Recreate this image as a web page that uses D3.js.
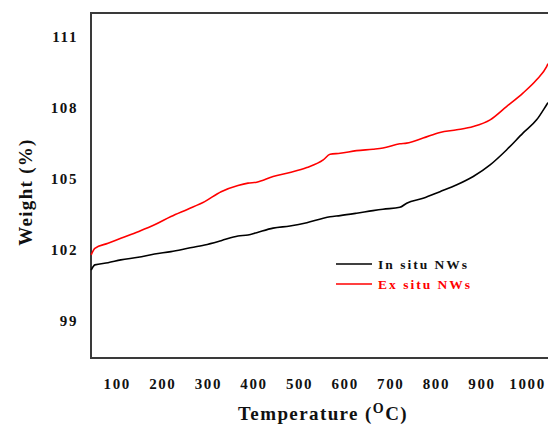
<!DOCTYPE html>
<html>
<head>
<meta charset="utf-8">
<script src="https://cdn.jsdelivr.net/npm/d3@7"></script>
<style>
  html, body { margin: 0; padding: 0; background: #fff; }
  svg { display: block; }
  text { font-family: "Liberation Serif", "Times New Roman", serif; font-weight: bold; }
</style>
</head>
<body>
<svg id="chart" width="548" height="427"></svg>
<script>
// Temperature (°C) sample points
const temps = [44, 52, 81, 109, 147, 183, 219, 256, 293, 329, 366, 388, 407, 443, 480, 517, 553, 568, 590, 626, 662, 684, 721, 736, 772, 809, 846, 882, 919, 955, 991, 1021, 1043, 1046];
// Weight (%) for the in situ nanowires
const inSitu = [101.15, 101.37, 101.46, 101.58, 101.69, 101.83, 101.93, 102.07, 102.21, 102.39, 102.59, 102.63, 102.73, 102.92, 103.01, 103.15, 103.34, 103.40, 103.45, 103.55, 103.66, 103.72, 103.80, 103.97, 104.18, 104.46, 104.75, 105.10, 105.59, 106.22, 106.93, 107.49, 108.13, 108.22];
// Weight (%) for the ex situ nanowires
const exSitu = [101.79, 102.07, 102.28, 102.49, 102.77, 103.06, 103.41, 103.72, 104.04, 104.46, 104.72, 104.82, 104.86, 105.10, 105.27, 105.48, 105.80, 106.04, 106.08, 106.19, 106.25, 106.30, 106.48, 106.51, 106.72, 106.96, 107.07, 107.21, 107.49, 108.05, 108.62, 109.18, 109.74, 109.86];
const xTicks = [100, 200, 300, 400, 500, 600, 700, 800, 900, 1000];
const yTicks = [99, 102, 105, 108, 111];
const seriesNames = ["In situ NWs", "Ex situ NWs"];
const seriesColors = ["#000000", "#ff0000"];

const svg = d3.select("#chart");
const plotL = 91, plotR = 548, plotT = 13, plotB = 358;

const x = d3.scaleLinear().domain([43.6, 1046]).range([plotL, plotR]);
const y = d3.scaleLinear().domain([97.44, 112.0]).range([plotB, plotT]);

// frame: left, top and bottom edges
svg.append("path")
  .attr("d", `M${plotR},${plotT}H${plotL}V${plotB}H${plotR}`)
  .attr("fill", "none").attr("stroke", "#3a3a3a").attr("stroke-width", 2);

// axes with labels only (no tick marks)
const xAxis = svg.append("g").attr("transform", `translate(0,${plotB})`)
  .call(d3.axisBottom(x).tickValues(xTicks).tickSize(0).tickPadding(20).tickFormat(d3.format("d")));
const yAxis = svg.append("g").attr("transform", `translate(${plotL},0)`)
  .call(d3.axisLeft(y).tickValues(yTicks).tickSize(0).tickPadding(13).tickFormat(d3.format("d")));
[xAxis, yAxis].forEach(g => {
  g.select(".domain").remove();
  g.selectAll("text")
    .attr("font-family", "Liberation Serif, serif")
    .attr("font-weight", "bold")
    .attr("font-size", 15)
    .attr("letter-spacing", "1.6px")
    .attr("fill", "#111");
});

const line = d3.line().x(d => x(d[0])).y(d => y(d[1])).curve(d3.curveMonotoneX);
[inSitu, exSitu].forEach((vals, i) => {
  svg.append("path")
    .datum(temps.map((t, j) => [t, vals[j]]))
    .attr("d", line)
    .attr("fill", "none")
    .attr("stroke", seriesColors[i])
    .attr("stroke-width", 1.6);
});

// legend
const legend = svg.append("g").attr("transform", "translate(336,264)");
seriesNames.forEach((name, i) => {
  const g = legend.append("g").attr("transform", `translate(0,${i * 20})`);
  g.append("line").attr("x1", 0).attr("x2", 36).attr("y1", 0).attr("y2", 0)
    .attr("stroke", seriesColors[i]).attr("stroke-width", 1.6);
  g.append("text").attr("x", 42).attr("y", 5)
    .attr("font-size", 13.5).attr("letter-spacing", "2px")
    .attr("fill", seriesColors[i] === "#000000" ? "#111" : "#ff0000")
    .text(name);
});

// axis titles
svg.append("text")
  .attr("transform", "translate(32,192) rotate(-90)")
  .attr("text-anchor", "middle")
  .attr("font-size", 19).attr("letter-spacing", "1.3px").attr("fill", "#111")
  .text("Weight (%)");

const xt = svg.append("text")
  .attr("x", 323).attr("y", 420)
  .attr("text-anchor", "middle")
  .attr("font-size", 19).attr("letter-spacing", "1.4px").attr("fill", "#111");
xt.append("tspan").text("Temperature (");
xt.append("tspan").attr("dy", -7).attr("font-size", 14).text("O");
xt.append("tspan").attr("dy", 7).text("C)");
</script>
</body>
</html>
